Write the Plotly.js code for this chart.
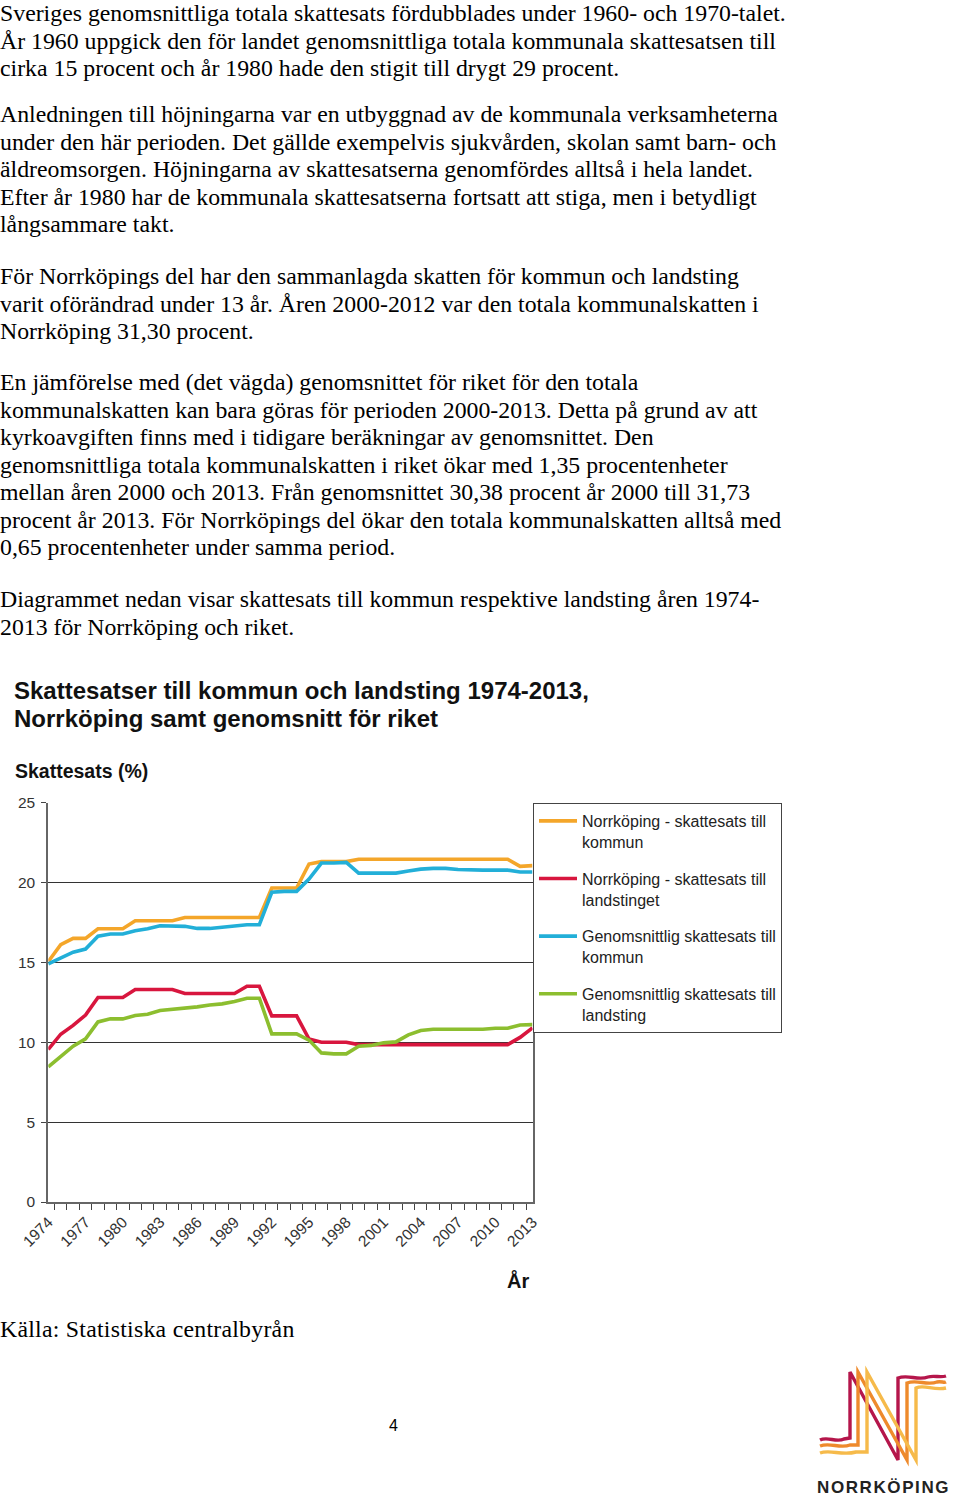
<!DOCTYPE html>
<html>
<head>
<meta charset="utf-8">
<script src="https://cdn.plot.ly/plotly-3.0.1.min.js"></script>
<style>
html,body{margin:0;padding:0;background:#fff;}
#page{position:relative;width:960px;height:1501px;overflow:hidden;background:#fff;}
#chart{position:absolute;left:0;top:0;width:960px;height:1501px;}
.p{position:absolute;left:0;font-family:"Liberation Serif","Times New Roman",serif;font-size:23.8px;line-height:27.5px;color:#000;white-space:nowrap;}
#src{letter-spacing:0.25px;}
#pnum{position:absolute;left:389px;top:1417px;font-family:"Liberation Sans",Arial,sans-serif;font-size:16px;color:#000;}
#logo{position:absolute;left:800px;top:1360px;}
</style>
</head>
<body>
<div id="page">
<div id="chart"></div>
<div class="p" style="top:0px">Sveriges genomsnittliga totala skattesats fördubblades under 1960- och 1970-talet.<br>År 1960 uppgick den för landet genomsnittliga totala kommunala skattesatsen till<br>cirka 15 procent och år 1980 hade den stigit till drygt 29 procent.</div>
<div class="p" style="top:101px">Anledningen till höjningarna var en utbyggnad av de kommunala verksamheterna<br>under den här perioden. Det gällde exempelvis sjukvården, skolan samt barn- och<br>äldreomsorgen. Höjningarna av skattesatserna genomfördes alltså i hela landet.<br>Efter år 1980 har de kommunala skattesatserna fortsatt att stiga, men i betydligt<br>långsammare takt.</div>
<div class="p" style="top:263px">För Norrköpings del har den sammanlagda skatten för kommun och landsting<br>varit oförändrad under 13 år. Åren 2000-2012 var den totala kommunalskatten i<br>Norrköping 31,30 procent.</div>
<div class="p" style="top:369px">En jämförelse med (det vägda) genomsnittet för riket för den totala<br>kommunalskatten kan bara göras för perioden 2000-2013. Detta på grund av att<br>kyrkoavgiften finns med i tidigare beräkningar av genomsnittet. Den<br>genomsnittliga totala kommunalskatten i riket ökar med 1,35 procentenheter<br>mellan åren 2000 och 2013. Från genomsnittet 30,38 procent år 2000 till 31,73<br>procent år 2013. För Norrköpings del ökar den totala kommunalskatten alltså med<br>0,65 procentenheter under samma period.</div>
<div class="p" style="top:586px">Diagrammet nedan visar skattesats till kommun respektive landsting åren 1974-<br>2013 för Norrköping och riket.</div>
<div class="p" id="src" style="top:1316px">Källa: Statistiska centralbyrån</div>
<div id="pnum">4</div>
<svg id="logo" width="160" height="141" viewBox="0 0 160 141">
  <g fill="none" stroke-width="3.4" stroke-linejoin="miter">
    <path stroke="#B5164B" d="M20,80 C28,76 36,83 44,79 L50,78 L50,12 L98,100 L98,18 C108,14 118,21 128,17 C134,15 140,18 146,16"/>
    <path stroke="#EE8A2C" d="M20,86 C30,82 40,89 50,85 L58,85 L58,12 L107,100 L107,23 C117,19 127,26 137,22 C141,21 144,23 146,22"/>
    <path stroke="#F6BA4A" d="M20,93 C30,89 42,96 56,92 L67,92 L67,12 L116,100 L116,28 C124,24 134,31 146,28"/>
  </g>
  <text x="17" y="133" font-family="Liberation Sans, Arial, sans-serif" font-weight="bold" font-size="17" letter-spacing="1.6" fill="#222">NORRKÖPING</text>
</svg>
</div>
<script>
const years = ["1974","1975","1976","1977","1978","1979","1980","1981","1982","1983","1984","1985","1986","1987","1988","1989","1990","1991","1992","1993","1994","1995","1996","1997","1998","1999","2000","2001","2002","2003","2004","2005","2006","2007","2008","2009","2010","2011","2012","2013"];
const tickLabels = ["1974","1977","1980","1983","1986","1989","1992","1995","1998","2001","2004","2007","2010","2013"];

const norrkopingKommun = [15.05,16.1,16.5,16.5,17.1,17.1,17.1,17.6,17.6,17.6,17.6,17.8,17.8,17.8,17.8,17.8,17.8,17.8,19.65,19.65,19.65,21.15,21.3,21.3,21.3,21.45,21.45,21.45,21.45,21.45,21.45,21.45,21.45,21.45,21.45,21.45,21.45,21.45,21.0,21.05];
const norrkopingLandsting = [9.55,10.5,11.05,11.7,12.8,12.8,12.8,13.3,13.3,13.3,13.3,13.05,13.05,13.05,13.05,13.05,13.5,13.5,11.65,11.65,11.65,10.2,10.0,10.0,10.0,9.85,9.85,9.85,9.85,9.85,9.85,9.85,9.85,9.85,9.85,9.85,9.85,9.85,10.3,10.9];
const snittKommun = [14.9,15.27,15.63,15.83,16.63,16.77,16.77,16.98,17.1,17.29,17.29,17.25,17.12,17.12,17.19,17.25,17.35,17.35,19.38,19.44,19.44,20.21,21.21,21.21,21.25,20.58,20.58,20.58,20.58,20.71,20.83,20.88,20.88,20.81,20.77,20.77,20.77,20.77,20.65,20.65];
const snittLandsting = [8.46,9.13,9.75,10.21,11.27,11.46,11.46,11.67,11.75,11.98,12.04,12.1,12.21,12.33,12.4,12.54,12.75,12.75,10.52,10.52,10.52,10.13,9.33,9.27,9.27,9.75,9.8,9.96,10.02,10.46,10.73,10.81,10.81,10.81,10.77,10.81,10.87,10.87,11.08,11.1];

const seriesNames = ["Norrköping - skattesats till<br>kommun","Norrköping - skattesats till<br>landstinget","Genomsnittlig skattesats till<br>kommun","Genomsnittlig skattesats till<br>landsting"];
const seriesColors = ["#F4A62A","#D8163E","#22AFD8","#8CBE2F"];
const seriesData = [norrkopingKommun,norrkopingLandsting,snittKommun,snittLandsting];

const traces = seriesData.map((d,i)=>({
  type:'scatter', mode:'lines', x:years, y:d, name:seriesNames[i],
  legendgroup:'g'+i,
  line:{color:seriesColors[i], width:3.6}
}));

const H = 1501;
const py = v => (H - v)/H;
const px = v => v/960;

const layout = {
  width:960, height:H, autosize:false,
  margin:{l:0,r:0,t:0,b:0},
  paper_bgcolor:'rgba(0,0,0,0)', plot_bgcolor:'#fff',
  font:{family:'Liberation Sans, Arial, sans-serif', color:'#222'},
  showlegend:true,
  xaxis:{
    type:'category', domain:[px(48.3), px(532.5)],
    categoryorder:'array', categoryarray:years,
    tickmode:'array', tickvals:years,
    ticktext:years.map(y=>tickLabels.includes(y)?y:''),
    tickson:'boundaries', ticks:'outside', ticklen:6, tickcolor:'#444', tickwidth:1,
    tickangle:-45, tickfont:{size:15.5, color:'#333'}, ticklabelstandoff:3,
    showline:true, linecolor:'#666', linewidth:2, showgrid:false, zeroline:false,
    fixedrange:true
  },
  yaxis:{
    range:[0,25], dtick:5, tick0:0, domain:[py(1202), py(802.5)],
    ticks:'outside', ticklen:5, tickcolor:'#444',
    tickfont:{size:15.5, color:'#333'}, ticklabelstandoff:3,
    showline:true, linecolor:'#666', linewidth:2, mirror:true,
    showgrid:true, gridcolor:'#333', gridwidth:1, zeroline:false,
    fixedrange:true
  },
  legend:{
    x:px(533), y:py(803), xanchor:'left', yanchor:'top',
    bgcolor:'#fff', bordercolor:'#444', borderwidth:1,
    font:{size:16, color:'#222'}, valign:'top', tracegroupgap:13,
    itemwidth:38, traceorder:'grouped'
  },
  annotations:[
    {xref:'paper', yref:'paper', x:px(12), y:py(690), xanchor:'left', yanchor:'middle', showarrow:false,
     text:'<b>Skattesatser till kommun och landsting 1974-2013,</b>', font:{size:24, color:'#111'}},
    {xref:'paper', yref:'paper', x:px(12), y:py(718), xanchor:'left', yanchor:'middle', showarrow:false,
     text:'<b>Norrköping samt genomsnitt för riket</b>', font:{size:24, color:'#111'}},
    {xref:'paper', yref:'paper', x:px(13), y:py(771), xanchor:'left', yanchor:'middle', showarrow:false,
     text:'<b>Skattesats (%)</b>', font:{size:19.5, color:'#111'}},
    {xref:'paper', yref:'paper', x:px(518), y:py(1280), xanchor:'center', yanchor:'middle', showarrow:false,
     text:'<b>År</b>', font:{size:20, color:'#111'}}
  ]
};

Plotly.newPlot('chart', traces, layout, {staticPlot:true, displayModeBar:false});
</script>
</body>
</html>
